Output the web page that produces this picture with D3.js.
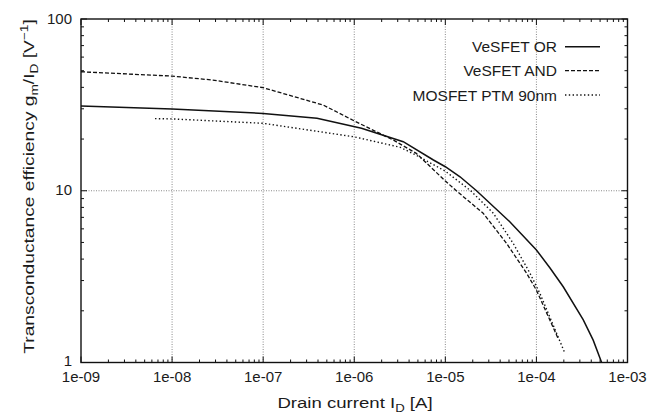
<!DOCTYPE html>
<html>
<head>
<meta charset="utf-8">
<script src="https://cdn.jsdelivr.net/npm/d3@7"></script>
<style>
  html, body { margin: 0; padding: 0; background: #fff; }
  svg text { font-family: "Liberation Sans", Arial, Helvetica, sans-serif; fill: #1b1b1b; }
</style>
</head>
<body>
<svg id="chart" width="667" height="415"></svg>
<script>
// Drain current (A) and transconductance efficiency gm/ID (1/V) for each device
const orCurrent = [1e-9, 1e-8, 1e-7, 3.9e-7, 1.2e-6, 3.45e-6, 7.4e-6, 1e-5, 1.45e-5, 2.2e-5, 5.1e-5, 1e-4, 1.41e-4, 1.97e-4, 3.27e-4, 4.2e-4, 5.2e-4];
const orGm      = [31.1, 29.9, 28.2, 26.4, 23.1, 19.3, 15.1, 13.8, 12.06, 10, 6.6, 4.52, 3.55, 2.76, 1.77, 1.35, 1.0];

const andCurrent = [1e-9, 1e-8, 2.8e-8, 1e-7, 4.6e-7, 1e-6, 2.7e-6, 4.8e-6, 1e-5, 1.32e-5, 2.6e-5, 4.7e-5, 7.8e-5, 1e-4, 1.73e-4];
const andGm      = [49.3, 46.5, 44.1, 39.8, 31.5, 25.5, 19.7, 16.5, 11.4, 10, 7.4, 4.94, 3.31, 2.64, 1.38];

const mosCurrent = [6.5e-9, 1e-8, 1e-7, 1e-6, 3.2e-6, 4.8e-6, 1e-5, 1.9e-5, 3.36e-5, 5.56e-5, 8.5e-5, 1.09e-4, 2.06e-4];
const mosGm      = [26.3, 26.2, 24.7, 20.6, 17.9, 16.1, 13.0, 10, 7.4, 4.94, 3.31, 2.53, 1.13];

const seriesNames = ["VeSFET OR", "VeSFET AND", "MOSFET PTM 90nm"];
const xTickValues = [1e-9, 1e-8, 1e-7, 1e-6, 1e-5, 1e-4, 1e-3];
const xTickLabels = ["1e-09", "1e-08", "1e-07", "1e-06", "1e-05", "1e-04", "1e-03"];
const yTickValues = [1, 10, 100];
const yTickLabels = ["1", "10", "100"];

const svg = d3.select("#chart");
const plotLeft = 81, plotRight = 627.5, plotTop = 19, plotBottom = 362.5;

const x = d3.scaleLog().domain([1e-9, 1e-3]).range([plotLeft, plotRight]);
const y = d3.scaleLog().domain([1, 100]).range([plotBottom, plotTop]);

// minor tick positions (2..9 within each decade)
const xMinor = [];
for (let e = -9; e < -3; e++) for (let k = 2; k <= 9; k++) xMinor.push(k * Math.pow(10, e));
const yMinor = [];
for (let e = 0; e < 2; e++) for (let k = 2; k <= 9; k++) yMinor.push(k * Math.pow(10, e));

// dotted grid at interior decades
const grid = svg.append("g").attr("stroke", "#8a8a8a").attr("stroke-width", 1).attr("stroke-dasharray", "1,1.5");
xTickValues.slice(1, -1).forEach(v => {
  grid.append("line").attr("x1", x(v)).attr("x2", x(v)).attr("y1", plotTop).attr("y2", plotBottom);
});
yTickValues.slice(1, -1).forEach(v => {
  grid.append("line").attr("x1", plotLeft).attr("x2", plotRight).attr("y1", y(v)).attr("y2", y(v));
});

// mirrored inward ticks on all four sides
const tickLen = 6, minorLen = 3;
const ticks = svg.append("g").attr("stroke", "#111").attr("stroke-width", 1);
function xTick(v, len) {
  ticks.append("line").attr("x1", x(v)).attr("x2", x(v)).attr("y1", plotBottom).attr("y2", plotBottom - len);
  ticks.append("line").attr("x1", x(v)).attr("x2", x(v)).attr("y1", plotTop).attr("y2", plotTop + len);
}
function yTick(v, len) {
  ticks.append("line").attr("x1", plotLeft).attr("x2", plotLeft + len).attr("y1", y(v)).attr("y2", y(v));
  ticks.append("line").attr("x1", plotRight).attr("x2", plotRight - len).attr("y1", y(v)).attr("y2", y(v));
}
xTickValues.forEach(v => xTick(v, tickLen));
xMinor.forEach(v => xTick(v, minorLen));
yTickValues.forEach(v => yTick(v, tickLen));
yMinor.forEach(v => yTick(v, minorLen));

// frame
svg.append("rect").attr("x", plotLeft).attr("y", plotTop)
  .attr("width", plotRight - plotLeft).attr("height", plotBottom - plotTop)
  .attr("fill", "none").attr("stroke", "#111").attr("stroke-width", 1.4);

// tick labels
svg.append("g").selectAll("text").data(xTickValues).join("text")
  .attr("x", d => x(d)).attr("y", 381.5).attr("text-anchor", "middle").attr("font-size", 15)
  .text((d, i) => xTickLabels[i]);
svg.append("g").selectAll("text").data(yTickValues).join("text")
  .attr("x", 72).attr("y", d => y(d) + (d === 1 ? 3 : 4.5)).attr("text-anchor", "end").attr("font-size", 15)
  .text((d, i) => yTickLabels[i]);

// axis titles (set in a wide face, stretched along the reading direction)
const xt = svg.append("text").attr("transform", "translate(355,407.5) scale(1.2,1)")
  .attr("text-anchor", "middle").attr("font-size", 15.5);
xt.append("tspan").text("Drain current  I");
xt.append("tspan").attr("font-size", 11).attr("dy", 4).text("D");
xt.append("tspan").attr("dy", -4).text(" [A]");

const yt = svg.append("text").attr("transform", "translate(34,186.5) rotate(-90) scale(1.24,1)")
  .attr("text-anchor", "middle").attr("font-size", 15.5);
yt.append("tspan").text("Transconductance efficiency  g");
yt.append("tspan").attr("font-size", 11).attr("dy", 4).text("m");
yt.append("tspan").attr("dy", -4).text("/I");
yt.append("tspan").attr("font-size", 11).attr("dy", 4).text("D");
yt.append("tspan").attr("dy", -4).text(" [V");
yt.append("tspan").attr("font-size", 11).attr("dy", -6).text("\u22121");
yt.append("tspan").attr("dy", 6).text("]");

// curves
const series = [
  { xs: orCurrent, ys: orGm, dash: null, width: 1.5 },
  { xs: andCurrent, ys: andGm, dash: "4,2", width: 1.3 },
  { xs: mosCurrent, ys: mosGm, dash: "1.4,2.4", width: 1.4 }
];
const line = d3.line().x(d => x(d[0])).y(d => y(d[1]));
series.forEach(s => {
  const pts = s.xs.map((v, i) => [v, s.ys[i]]);
  svg.append("path").datum(pts).attr("d", line)
    .attr("fill", "none").attr("stroke", "#111").attr("stroke-width", s.width)
    .attr("stroke-dasharray", s.dash);
});

// legend
const legendY = [46.7, 70.7, 95];
series.forEach((s, i) => {
  svg.append("text").attr("x", 557).attr("y", legendY[i] + 5.5).attr("text-anchor", "end")
    .attr("font-size", 15.5).text(seriesNames[i]);
  svg.append("line").attr("x1", 565).attr("x2", 600).attr("y1", legendY[i]).attr("y2", legendY[i])
    .attr("stroke", "#111").attr("stroke-width", s.width).attr("stroke-dasharray", s.dash);
});
</script>
</body>
</html>
